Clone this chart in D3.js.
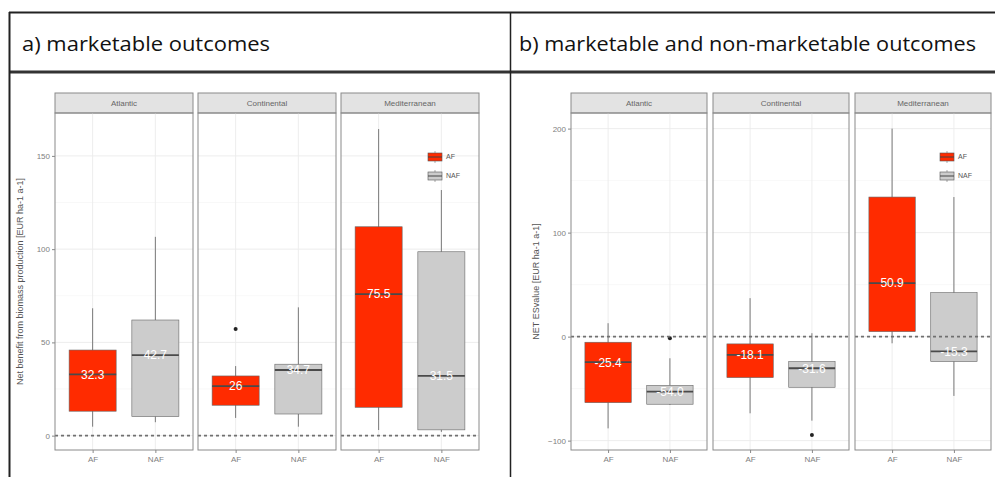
<!DOCTYPE html>
<html>
<head>
<meta charset="utf-8">
<script src="https://cdn.jsdelivr.net/npm/d3@7"></script>
<style>
  body { margin: 0; background: #fff; }
  svg { display: block; font-family: "Liberation Sans", Arial, sans-serif; }
</style>
</head>
<body>
<svg id="chart" width="995" height="477"></svg>
<script>
// facets and groups
const regions = ["Atlantic", "Continental", "Mediterranean"];
const groups = ["AF", "NAF"];

// panel a: marketable outcomes  [whiskerLow, q1, median, q3, whiskerHigh]
const statsA = [
  [[4.8, 13.1, 32.9, 45.9, 68.3], [7.2, 10.2, 43.2, 62.0, 106.6]],
  [[9.5, 16.3, 26.6, 32.0, 37.3], [4.8, 11.6, 35.2, 38.3, 68.8]],
  [[3.0, 15.2, 75.9, 112.0, 164.4], [2.0, 3.1, 32.0, 98.6, 131.7]]
];
const outliersA = [[[], []], [[57.2], []], [[], []]];
const labelsA = [["32.3", "42.7"], ["26", "34.7"], ["75.5", "31.5"]];
const ticksA = [0, 50, 100, 150];
const minorA = [25, 75, 125];

// panel b: marketable and non-marketable outcomes
const statsB = [
  [[-88.2, -63.5, -24.6, -5.4, 12.9], [-65.7, -65.0, -52.9, -46.8, -20.8]],
  [[-73.7, -39.4, -17.6, -7.0, 37.0], [-80.8, -48.7, -30.4, -24.0, 3.3]],
  [[-6.4, 4.8, 51.4, 134.2, 200.0], [-57.0, -24.0, -14.1, 42.3, 134.2]]
];
const outliersB = [[[], [-1.5]], [[], [-94.6]], [[], []]];
const labelsB = [["-25.4", "-54.0"], ["-18.1", "-31.6"], ["50.9", "-15.3"]];
const ticksB = [-100, 0, 100, 200];
const minorB = [-50, 50, 150];

const fills = { AF: "#ff2b00", NAF: "#cccccc" };

const svg = d3.select("#chart");

// ---- table frame and headers ----
const frame = svg.append("g");
frame.append("line").attr("x1", 9).attr("x2", 995).attr("y1", 12.5).attr("y2", 12.5)
  .attr("stroke", "#222").attr("stroke-width", 2);
frame.append("line").attr("x1", 9).attr("x2", 995).attr("y1", 72).attr("y2", 72)
  .attr("stroke", "#333").attr("stroke-width", 3);
frame.append("line").attr("x1", 9.5).attr("x2", 9.5).attr("y1", 12).attr("y2", 477)
  .attr("stroke", "#222").attr("stroke-width", 2);
frame.append("line").attr("x1", 510.5).attr("x2", 510.5).attr("y1", 12).attr("y2", 477)
  .attr("stroke", "#222").attr("stroke-width", 1.5);

frame.append("text").text("a) marketable outcomes")
  .attr("x", 22).attr("y", 51).attr("font-size", 20)
  .attr("textLength", 248).attr("lengthAdjust", "spacingAndGlyphs")
  .attr("fill", "#111").style("font-family", "'Open Sans', sans-serif");
frame.append("text").text("b) marketable and non-marketable outcomes")
  .attr("x", 519).attr("y", 51).attr("font-size", 20)
  .attr("textLength", 457).attr("lengthAdjust", "spacingAndGlyphs")
  .attr("fill", "#111").style("font-family", "'Open Sans', sans-serif");

function facetChart(opts) {
  const { left, right, gap, domain, ticks, minor, stats, outliers, labels, title } = opts;
  const top = 113, bottom = 450, stripH = 20;
  const pw = (right - left - 2 * gap) / 3;
  const y = d3.scaleLinear().domain(domain).range([bottom, top]);
  const x = d3.scalePoint().domain(groups).range([0, pw]).padding(0.6);
  const bw = x.step() * 0.75;

  const g = svg.append("g");

  // y axis
  const yAxis = g.append("g").attr("transform", `translate(${left},0)`)
    .call(d3.axisLeft(y).tickValues(ticks).tickSize(3).tickPadding(2));
  yAxis.select(".domain").remove();
  yAxis.selectAll("line").attr("stroke", "#888");
  yAxis.selectAll("text").attr("fill", "#808080").attr("font-size", 8);

  g.append("text").text(title)
    .attr("transform", `translate(${left - 32},${(top + bottom) / 2}) rotate(-90)`)
    .attr("text-anchor", "middle").attr("font-size", 9).attr("fill", "#555");

  regions.forEach((r, i) => {
    const px = left + i * (pw + gap);
    const p = g.append("g").attr("transform", `translate(${px},0)`);

    // strip
    p.append("rect").attr("x", 0).attr("y", top - stripH).attr("width", pw).attr("height", stripH)
      .attr("fill", "#e3e3e3").attr("stroke", "#8a8a8a").attr("stroke-width", 1);
    p.append("text").text(r).attr("x", pw / 2).attr("y", top - stripH / 2)
      .attr("dy", "0.35em").attr("text-anchor", "middle")
      .attr("font-size", 8).attr("fill", "#666");

    // grid
    p.selectAll(".minor").data(minor).join("line")
      .attr("x1", 0).attr("x2", pw).attr("y1", d => y(d)).attr("y2", d => y(d))
      .attr("stroke", "#f4f4f4").attr("stroke-width", 0.6);
    p.selectAll(".major").data(ticks).join("line")
      .attr("x1", 0).attr("x2", pw).attr("y1", d => y(d)).attr("y2", d => y(d))
      .attr("stroke", "#ebebeb").attr("stroke-width", 0.9);
    p.selectAll(".vgrid").data(groups).join("line")
      .attr("x1", d => x(d)).attr("x2", d => x(d)).attr("y1", top).attr("y2", bottom)
      .attr("stroke", "#ebebeb").attr("stroke-width", 0.9);

    // boxes
    groups.forEach((grp, j) => {
      const s = stats[i][j];
      const cx = x(grp);
      p.append("line").attr("x1", cx).attr("x2", cx).attr("y1", y(s[0])).attr("y2", y(s[4]))
        .attr("stroke", "#7a7a7a").attr("stroke-width", 1);
      p.append("rect").attr("x", cx - bw / 2).attr("y", y(s[3]))
        .attr("width", bw).attr("height", y(s[1]) - y(s[3]))
        .attr("fill", fills[grp]).attr("stroke", "#666").attr("stroke-width", 0.6);
      p.append("line").attr("x1", cx - bw / 2).attr("x2", cx + bw / 2)
        .attr("y1", y(s[2])).attr("y2", y(s[2]))
        .attr("stroke", "#4a4a4a").attr("stroke-width", 1.8);
      p.selectAll(null).data(outliers[i][j]).join("circle")
        .attr("cx", cx).attr("cy", d => y(d)).attr("r", 2).attr("fill", "#222");
      p.append("text").text(labels[i][j]).attr("x", cx).attr("y", y(s[2]))
        .attr("dy", "0.36em").attr("text-anchor", "middle")
        .attr("font-size", 12).attr("fill", "#fff");
    });

    // zero reference line
    p.append("line").attr("x1", 0).attr("x2", pw).attr("y1", y(0)).attr("y2", y(0))
      .attr("stroke", "#707070").attr("stroke-width", 1.6).attr("stroke-dasharray", "3,3");

    // panel border
    p.append("rect").attr("x", 0).attr("y", top).attr("width", pw).attr("height", bottom - top)
      .attr("fill", "none").attr("stroke", "#8a8a8a").attr("stroke-width", 1);

    // x axis
    const xa = p.append("g").attr("transform", `translate(0,${bottom})`)
      .call(d3.axisBottom(x).tickSize(3).tickPadding(3));
    xa.select(".domain").remove();
    xa.selectAll("line").attr("stroke", "#888");
    xa.selectAll("text").attr("fill", "#808080").attr("font-size", 8);

    // legend inside last panel
    if (i === regions.length - 1) {
      const lg = p.append("g").attr("transform", `translate(${pw - 51},150)`);
      groups.forEach((grp, j) => {
        const ky = j * 19;
        lg.append("line").attr("x1", 7).attr("x2", 7).attr("y1", ky + 1).attr("y2", ky + 13)
          .attr("stroke", "#777").attr("stroke-width", 0.6);
        lg.append("rect").attr("x", 0).attr("y", ky + 3).attr("width", 14).attr("height", 8)
          .attr("fill", fills[grp]).attr("stroke", "#555").attr("stroke-width", 0.6);
        lg.append("line").attr("x1", 0).attr("x2", 14).attr("y1", ky + 7).attr("y2", ky + 7)
          .attr("stroke", "#444").attr("stroke-width", 1);
        lg.append("text").text(grp).attr("x", 18).attr("y", ky + 7).attr("dy", "0.35em")
          .attr("font-size", 7).attr("fill", "#555");
      });
    }
  });
}

facetChart({
  left: 55, right: 479, gap: 5, domain: [-7.7, 173],
  ticks: ticksA, minor: minorA, stats: statsA, outliers: outliersA, labels: labelsA,
  title: "Net benefit from biomass production [EUR ha-1 a-1]"
});
facetChart({
  left: 571, right: 991, gap: 6, domain: [-109, 215],
  ticks: ticksB, minor: minorB, stats: statsB, outliers: outliersB, labels: labelsB,
  title: "NET ESvalue [EUR ha-1 a-1]"
});
</script>
</body>
</html>
